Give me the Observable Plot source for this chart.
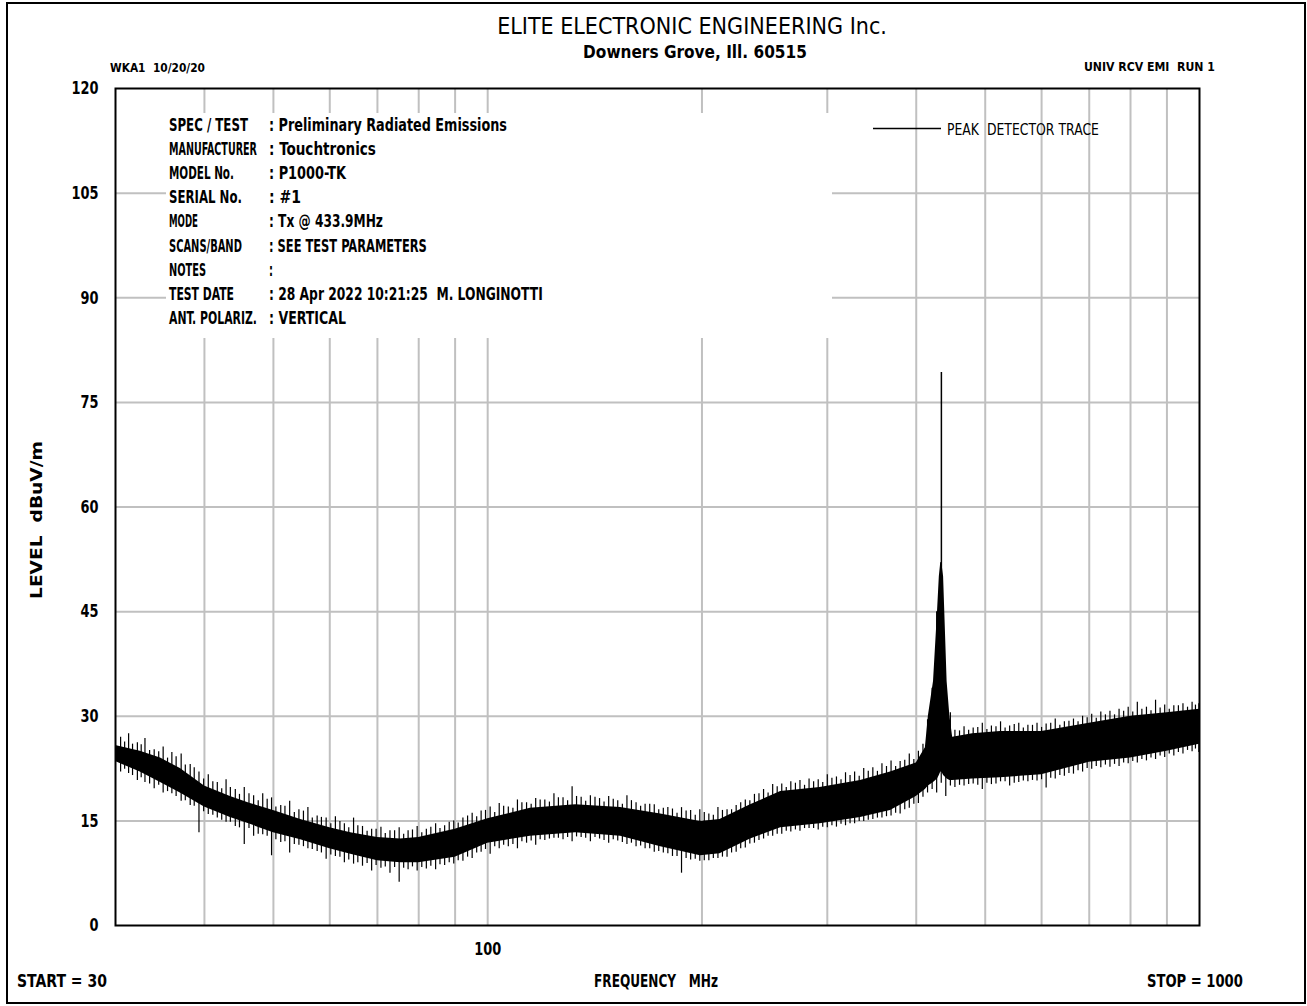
<!DOCTYPE html>
<html>
<head>
<meta charset="utf-8">
<script src="https://cdn.jsdelivr.net/npm/d3@7"></script>
<script src="https://cdn.jsdelivr.net/npm/@observablehq/plot@0.6"></script>
<style>
  html, body { margin: 0; padding: 0; background: #fff; }
  #wrap { position: relative; width: 1307px; height: 1006px; overflow: hidden; }
  #wrap > svg { position: absolute; left: 0; top: 0; }
</style>
</head>
<body>
<div id="wrap"></div>
<script>
// ---------------- DATA ----------------
// dense core of the peak-detector trace (MHz, dBuV/m)
const freqMHz   = [30, 32.5, 34.7, 37, 40, 43.5, 46.4, 50, 54.6, 60, 64.2, 70, 75.4, 80, 90, 100, 114.8, 132.9, 153.7, 175, 199, 212, 234, 258, 293, 334, 368, 400, 412, 416, 423, 428.5, 431, 433, 434.5, 437, 442, 446, 450, 480, 525, 600, 700, 800, 900, 1000];
const levelLow  = [23.5, 22.0, 20.5, 19.0, 17.0, 15.5, 14.5, 13.3, 12.3, 11.0, 10.2, 9.3, 9.0, 9.0, 9.8, 11.8, 12.8, 13.3, 12.8, 11.3, 10.0, 10.3, 12.4, 14.0, 14.6, 15.5, 16.5, 18.5, 19.5, 20.0, 20.5, 21.0, 21.5, 22.0, 22.0, 21.5, 21.0, 20.8, 20.8, 21.0, 21.2, 21.6, 23.4, 24.0, 25.0, 26.0];
const levelHigh = [25.8, 25.0, 24.0, 22.5, 20.0, 18.5, 17.5, 16.5, 15.2, 14.0, 13.3, 12.6, 12.4, 12.6, 13.8, 15.3, 16.8, 17.3, 16.9, 16.0, 14.9, 15.2, 17.3, 19.2, 19.8, 20.8, 22.0, 23.3, 25.5, 30.0, 35.0, 45.0, 50.0, 52.0, 52.0, 50.0, 35.0, 30.0, 27.0, 27.5, 27.8, 27.8, 29.0, 30.0, 30.5, 31.0];

// larger noise excursions (MHz, top, bottom)
const spikeFreq = [30.5, 31.3, 32.2, 33.0, 34.0, 35.0, 36.0, 37.1, 38.2, 39.3, 40.5, 41.7, 42.9, 44.2, 45.5, 46.9, 48.3, 49.7, 51.2, 52.7, 54.3, 55.9, 57.6, 59.3, 61.1, 62.9, 64.8, 66.7, 68.7, 70.8, 72.9, 75.1, 77.3, 79.6, 82.0, 84.5, 87.0, 89.6, 92.3, 95.1, 97.9, 100.8, 103.8, 106.9, 110.1, 113.4, 116.8, 120.3, 123.9, 127.6, 131.4, 135.3, 139.4, 143.6, 147.9, 152.3, 156.9, 161.6, 166.4, 171.4, 176.5, 181.8, 187.2, 192.8, 198.6, 204.5, 210.6, 216.9, 223.4, 230.1, 237.0, 244.1, 251.4, 258.9, 266.6, 274.6, 282.8, 291.3, 300.0, 309.0, 318.2, 327.7, 337.5, 347.6, 358.0, 368.7, 379.7, 391.1, 402.8, 414.9, 427.3, 440.1, 453.3, 466.9, 480.9, 495.3, 510.1, 525.4, 541.1, 557.3, 574.0, 591.2, 608.9, 627.1, 645.9, 665.2, 685.1, 705.6, 726.7, 748.5, 770.9, 794.0, 817.8, 842.3, 867.5, 893.5, 920.3, 947.9, 976.3, 998];
const spikeTop = [27.0, 27.5, 26.2, 26.8, 25.2, 25.6, 24.8, 24.6, 23.1, 22.0, 21.6, 20.5, 20.9, 19.5, 19.8, 18.6, 18.9, 18.3, 17.2, 17.8, 16.6, 16.9, 15.7, 15.4, 15.6, 14.6, 15.4, 14.2, 13.8, 14.1, 13.6, 14.0, 13.6, 14.2, 13.8, 14.6, 14.3, 15.0, 15.4, 16.1, 16.4, 17.0, 17.5, 17.0, 18.0, 17.6, 18.2, 18.0, 18.9, 18.3, 19.9, 18.4, 18.6, 18.2, 18.5, 17.9, 18.6, 17.6, 17.4, 17.3, 16.8, 16.7, 16.9, 16.5, 16.6, 16.0, 16.9, 16.6, 17.2, 18.0, 18.8, 19.5, 20.2, 20.3, 20.6, 20.8, 21.0, 20.9, 21.6, 21.3, 21.9, 22.0, 22.5, 22.6, 23.2, 23.6, 23.5, 24.6, 25.0, 29.5, 45.0, 34.0, 28.0, 28.5, 28.3, 29.0, 28.6, 29.2, 28.6, 29.0, 28.7, 29.0, 28.9, 29.6, 29.2, 29.6, 30.0, 30.3, 30.6, 30.7, 31.0, 31.3, 32.0, 31.3, 32.3, 31.6, 31.5, 31.8, 32.0, 31.8];
const spikeBottom = [22.0, 21.8, 20.8, 20.5, 19.6, 19.0, 18.9, 17.8, 17.2, 13.3, 15.9, 15.4, 14.8, 14.2, 11.6, 12.8, 13.0, 10.0, 11.9, 10.4, 11.5, 11.0, 10.6, 9.5, 9.9, 9.0, 8.8, 8.5, 7.8, 8.2, 7.5, 6.2, 8.0, 7.8, 8.1, 8.0, 8.6, 8.8, 9.2, 9.6, 10.5, 10.2, 11.0, 11.3, 11.0, 11.8, 11.5, 12.2, 12.5, 12.3, 12.0, 12.6, 12.0, 12.4, 11.8, 12.1, 11.6, 11.3, 11.0, 10.5, 10.4, 9.9, 7.5, 9.4, 9.2, 9.3, 9.6, 9.8, 10.5, 11.1, 11.8, 12.4, 12.8, 13.1, 13.4, 13.5, 13.9, 13.7, 14.0, 14.1, 14.3, 14.6, 14.9, 15.2, 15.4, 15.7, 16.0, 16.8, 17.5, 19.0, 19.0, 18.5, 19.8, 20.0, 20.3, 19.5, 20.2, 20.6, 20.0, 20.5, 20.6, 20.7, 19.7, 21.0, 21.4, 21.7, 22.0, 22.4, 22.6, 22.7, 22.8, 23.2, 23.3, 23.6, 23.8, 24.1, 24.3, 24.6, 24.9, 24.8];

// smaller noise excursions in between (MHz, top, bottom)
const noiseFreq = [30.9, 31.7, 32.6, 33.5, 34.5, 35.5, 36.5, 37.6, 38.7, 39.9, 41.1, 42.3, 43.5, 44.8, 46.2, 47.6, 49.0, 50.4, 51.9, 53.5, 55.1, 56.7, 58.4, 60.2, 62.0, 63.8, 65.7, 67.7, 69.7, 71.8, 74.0, 76.2, 78.4, 80.8, 83.2, 85.7, 88.3, 90.9, 93.7, 96.5, 99.3, 102.3, 105.3, 108.5, 111.7, 115.1, 118.5, 122.1, 125.7, 129.5, 133.3, 137.3, 141.5, 145.7, 150.1, 154.6, 159.2, 164.0, 168.9, 173.9, 179.1, 184.5, 190.0, 195.7, 201.5, 207.5, 213.7, 220.1, 226.7, 233.5, 240.5, 247.7, 255.1, 262.7, 270.6, 278.7, 287.0, 295.6, 304.5, 313.6, 322.9, 332.6, 342.5, 352.8, 363.3, 374.2, 385.4, 396.9, 408.8, 421.1, 433.7, 446.7, 460.1, 473.9, 488.1, 502.7, 517.7, 533.2, 549.2, 565.6, 582.6, 600.0, 618.0, 636.5, 655.5, 675.1, 695.3, 716.1, 737.6, 759.7, 782.4, 805.8, 829.9, 854.8, 880.4, 906.8, 934.0, 962.0, 987.0];
const noiseTop = [26.3, 26.0, 25.9, 25.1, 24.9, 24.0, 24.2, 23.0, 22.6, 21.0, 20.6, 19.6, 19.8, 18.8, 18.9, 17.9, 18.1, 17.0, 17.1, 16.2, 16.4, 15.4, 15.5, 14.6, 14.9, 14.0, 14.3, 13.5, 13.8, 13.2, 13.6, 13.1, 13.7, 13.3, 14.1, 13.9, 14.8, 14.7, 15.7, 15.6, 16.5, 16.2, 17.1, 16.8, 17.6, 17.4, 18.0, 17.7, 18.3, 17.9, 18.5, 17.8, 18.4, 17.7, 18.1, 17.4, 17.9, 17.1, 17.4, 16.6, 16.9, 16.1, 16.4, 15.8, 16.2, 15.8, 16.5, 16.6, 17.6, 17.9, 18.9, 19.0, 19.9, 19.8, 20.4, 20.1, 20.6, 20.5, 21.1, 20.9, 21.5, 21.4, 22.1, 22.1, 22.8, 22.8, 23.7, 23.8, 26.0, 34.0, 52.0, 30.5, 27.9, 28.0, 28.4, 28.1, 28.5, 28.3, 28.8, 28.3, 28.7, 28.4, 29.0, 28.7, 29.3, 29.2, 29.8, 29.7, 30.2, 30.2, 30.7, 30.6, 31.0, 30.8, 31.2, 31.0, 31.5, 31.3, 31.6];
const noiseBottom = [22.4, 21.5, 21.2, 20.3, 20.1, 19.2, 18.5, 17.9, 17.1, 16.3, 15.8, 15.1, 14.8, 14.0, 13.9, 13.1, 12.8, 12.3, 12.0, 11.6, 11.3, 10.9, 10.4, 10.1, 9.8, 9.4, 9.0, 8.9, 8.6, 8.4, 8.3, 8.2, 8.4, 8.3, 8.5, 8.7, 9.0, 9.3, 9.8, 10.4, 10.9, 11.3, 11.5, 11.6, 12.0, 12.1, 12.3, 12.4, 12.5, 12.6, 12.7, 12.5, 12.6, 12.2, 12.3, 11.9, 11.8, 11.4, 11.0, 10.6, 10.3, 9.9, 9.6, 9.5, 9.3, 9.6, 9.8, 10.4, 11.0, 11.7, 12.2, 12.8, 13.1, 13.5, 13.7, 13.9, 13.9, 14.1, 14.3, 14.5, 14.6, 14.9, 15.1, 15.4, 15.6, 16.1, 16.6, 17.4, 18.4, 19.5, 20.4, 20.0, 20.1, 20.2, 20.1, 20.4, 20.3, 20.6, 20.4, 20.7, 20.8, 20.9, 21.1, 21.5, 21.8, 22.2, 22.5, 22.8, 23.0, 23.1, 23.3, 23.5, 23.8, 24.0, 24.3, 24.6, 24.8, 25.1, 25.3];

// the carrier at 433.9 MHz
const peakFreq = [433.9];
const peakLevel = [79.3];
const peakBase = [22.0];

const yTicks = [0, 15, 30, 45, 60, 75, 90, 105, 120];
const xGrid = [40, 50, 60, 70, 80, 90, 100, 200, 300, 400, 500, 600, 700, 800, 900];
const xTickLabels = [100];

const titleText = "ELITE ELECTRONIC ENGINEERING Inc.";
const subtitleText = "Downers Grove, Ill. 60515";
const headerLeft = "WKA1  10/20/20";
const headerRight = "UNIV RCV EMI  RUN 1";
const infoLabels = ["SPEC / TEST", "MANUFACTURER", "MODEL No.", "SERIAL No.", "MODE", "SCANS/BAND", "NOTES", "TEST DATE", "ANT. POLARIZ."];
const infoValues = [": Preliminary Radiated Emissions", ": Touchtronics", ": P1000-TK", ": #1", ": Tx @ 433.9MHz", ": SEE TEST PARAMETERS", ":", ": 28 Apr 2022 10:21:25  M. LONGINOTTI", ": VERTICAL"];
const legendText = "PEAK  DETECTOR TRACE";
const yLabel = "LEVEL  dBuV/m";
const xLabel = "FREQUENCY   MHz";
const startText = "START = 30";
const stopText = "STOP = 1000";

// ---------------- TABLES ----------------
const core = freqMHz.map((f, i) => ({f, lo: levelLow[i], hi: levelHigh[i]}));
const spikes = spikeFreq.map((f, i) => ({f, top: spikeTop[i], bot: spikeBottom[i]}));
const noise = noiseFreq.map((f, i) => ({f, top: noiseTop[i], bot: noiseBottom[i]}));
const peak = peakFreq.map((f, i) => ({f, top: peakLevel[i], bot: peakBase[i]}));

const FONT = '"Liberation Sans Narrow", "DejaVu Sans Condensed", "Arial Narrow", sans-serif';

const W = 1307, H = 1006;
const chart = Plot.plot({
  width: W, height: H,
  marginLeft: 115, marginRight: 108, marginTop: 88, marginBottom: 81,
  style: {fontFamily: FONT, fontSize: "18px", background: "white", color: "black"},
  x: {type: "log", domain: [30, 1000]},
  y: {domain: [0, 120]},
  marks: [
    Plot.ruleX(xGrid, {stroke: "#c0c0c0", strokeWidth: 2}),
    Plot.ruleY(yTicks.filter(d => d > 0 && d < 120), {stroke: "#c0c0c0", strokeWidth: 2}),
    Plot.areaY(core, {x: "f", y1: "lo", y2: "hi", fill: "black", curve: "linear"}),
    Plot.ruleX(noise, {x: "f", y1: "bot", y2: "top", stroke: "black", strokeWidth: 1.2}),
    Plot.ruleX(spikes, {x: "f", y1: "bot", y2: "top", stroke: "black", strokeWidth: 1.2}),
    Plot.ruleX(peak, {x: "f", y1: "bot", y2: "top", stroke: "black", strokeWidth: 1.5}),
    Plot.frame({stroke: "black", strokeWidth: 2}),
    Plot.axisY({ticks: yTicks, tickSize: 0, tickPadding: 17, label: null, fontSize: 18, fontWeight: "bold", fontFamily: FONT}),
    Plot.axisX({ticks: xTickLabels, tickSize: 0, tickPadding: 17, label: null, tickFormat: d => String(d), fontSize: 18, fontWeight: "bold", fontFamily: FONT})
  ]
});
const wrap = document.getElementById("wrap");
wrap.appendChild(chart);

// narrow the tick labels like the plotter font
d3.select(chart).selectAll('g[aria-label="y-axis tick label"] text, g[aria-label="x-axis tick label"] text')
  .each(function() {
    const n = this.textContent.length;
    d3.select(this).attr("textLength", n * 9).attr("lengthAdjust", "spacingAndGlyphs");
  });

// ---------------- OVERLAY (titles, info box, legend) ----------------
const ov = d3.select(wrap).append("svg")
  .attr("width", W).attr("height", H)
  .style("font-family", FONT);

ov.append("rect").attr("x", 7).attr("y", 3).attr("width", 1298).attr("height", 1000)
  .attr("fill", "none").attr("stroke", "black").attr("stroke-width", 2);

// white box behind info block
ov.append("rect").attr("x", 166).attr("y", 113).attr("width", 666).attr("height", 225).attr("fill", "white");

// text squeezed horizontally to a target width (via transform, so its box is true)
function txt(s, x, y, opts) {
  const t = ov.append("text").attr("x", 0).attr("y", 0).text(s)
    .style("white-space", "pre")
    .attr("font-size", opts.size).attr("font-weight", opts.weight || "normal")
    .attr("text-anchor", opts.anchor || "start").attr("fill", "black");
  const w = t.node().getComputedTextLength();
  const sx = opts.len && w > 0 ? opts.len / w : 1;
  const rot = opts.rotate ? ` rotate(${opts.rotate})` : "";
  t.attr("transform", `translate(${x},${y})${rot} scale(${sx},1)`);
  return t;
}

txt(titleText, 692, 34, {size: 23, anchor: "middle", len: 390});
txt(subtitleText, 695, 58, {size: 17, weight: "bold", anchor: "middle", len: 224});
txt(headerLeft, 110, 72, {size: 12.5, weight: "bold", len: 95});
txt(headerRight, 1084, 71, {size: 12.5, weight: "bold", len: 131});

const infoLabelLen = [79, 88, 65, 73, 29, 73, 37, 65, 88];
const infoValueLen = [238, 107, 77, 32, 114, 158, 4, 274, 77];
infoLabels.forEach((s, i) => {
  const y = 131 + i * 24.1;
  txt(s, 169, y, {size: 18, weight: "bold", len: infoLabelLen[i]});
  txt(infoValues[i], 269, y, {size: 18, weight: "bold", len: infoValueLen[i]});
});

// legend
ov.append("line").attr("x1", 873).attr("x2", 941).attr("y1", 128.5).attr("y2", 128.5).attr("stroke", "black").attr("stroke-width", 1.5);
txt(legendText, 947, 135, {size: 16.5, len: 152});

// axis titles and footer
txt(yLabel, 42, 520, {size: 16, weight: "bold", anchor: "middle", rotate: -90, len: 158});
txt(xLabel, 656, 987, {size: 18, weight: "bold", anchor: "middle", len: 124});
txt(startText, 17, 987, {size: 18, weight: "bold", len: 90});
txt(stopText, 1147, 987, {size: 18, weight: "bold", len: 96});
</script>
</body>
</html>
